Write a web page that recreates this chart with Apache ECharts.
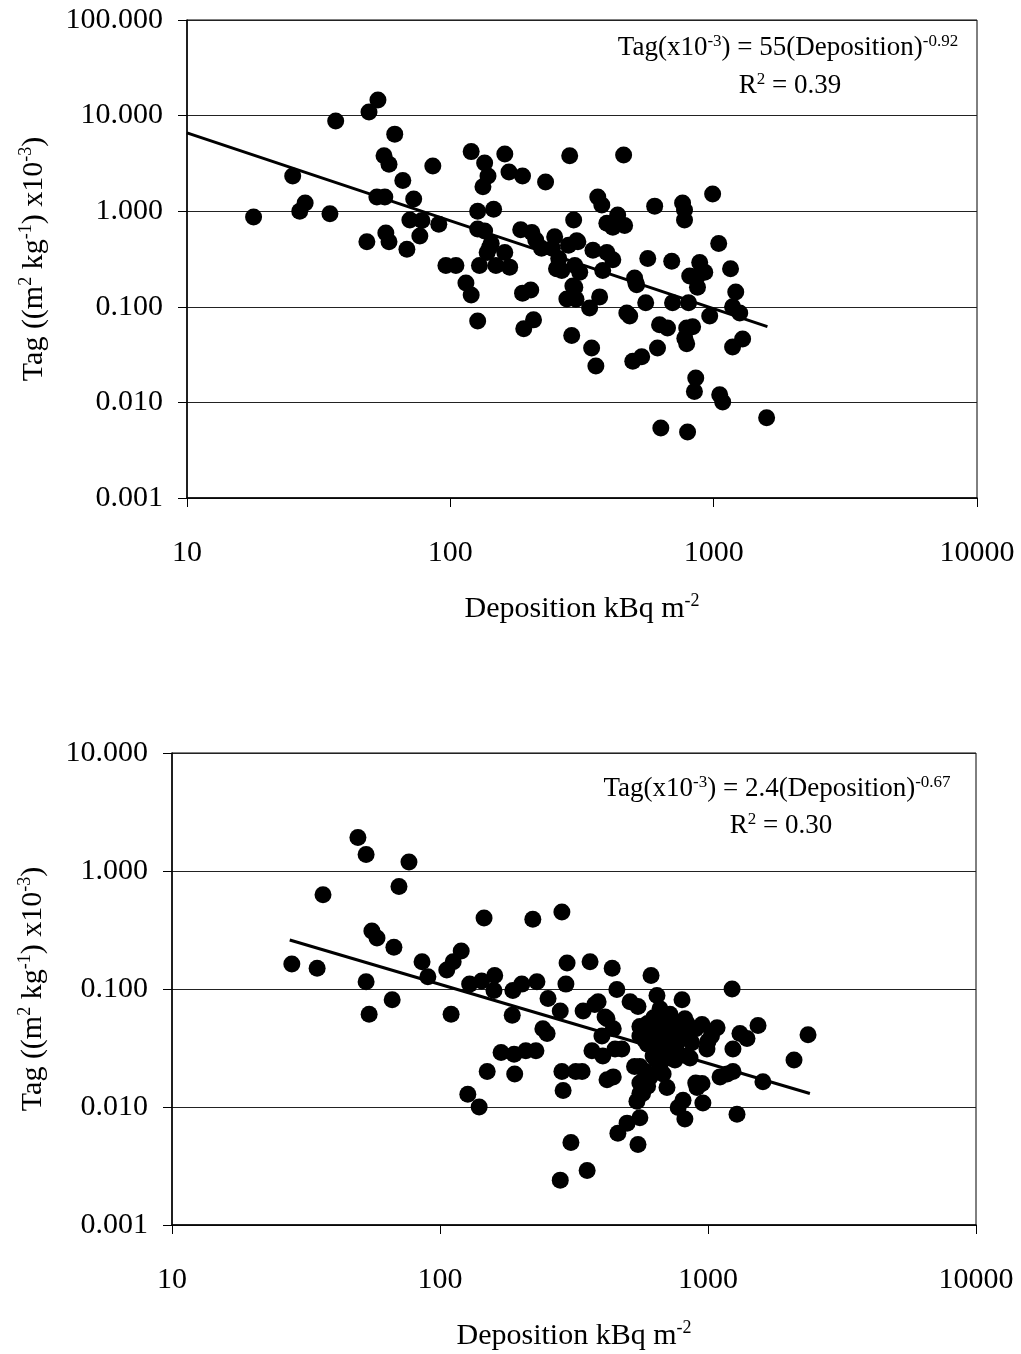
<!DOCTYPE html>
<html>
<head>
<meta charset="utf-8">
<script src="https://cdn.jsdelivr.net/npm/echarts@6/dist/echarts.min.js"></script>
<style>
  html, body { margin: 0; padding: 0; background: #fff; }
  #chart { width: 1021px; height: 1354px; }
</style>
</head>
<body>
<div id="chart"></div>
<script>
// deposition (kBq m-2) and Tag (x10-3)
var topDep = [17.9, 25.2, 26.8, 28.1, 34.9, 36.7, 49.1, 53.1, 61.5, 56, 58.5, 66, 52.6, 56.4, 72.6, 70.2, 78, 90.4, 85.8, 48.2,
  56.9, 58.5, 68.4, 76.6, 120, 135, 139, 133, 161, 167, 188, 230, 284, 127, 146, 127, 135, 185, 204, 249,
  294, 302, 281, 141, 143, 161, 138, 96.2, 105, 129, 149, 168, 114.6, 120, 127, 188, 202, 190, 207, 256,
  292, 277, 289, 338, 344, 357, 348, 393, 414, 369, 506, 562, 552, 468, 480, 693, 698, 623, 668, 612,
  533, 493, 630, 796, 1589, 855, 845, 1054, 1082, 790, 832, 777, 790, 803, 885, 925, 868, 811, 868, 1159,
  1213, 1180, 1256, 966, 1180, 1288, 1045, 455, 363, 376, 597, 762, 775, 775, 991, 393, 432, 459, 414, 222,
  211, 244, 253, 265, 258, 305, 297, 310, 297, 300, 379, 501, 510];
var topTag = [0.87, 2.33, 1.0, 1.22, 0.94, 8.8, 10.9, 14.6, 6.4, 3.8, 3.1, 2.1, 1.41, 1.41, 1.34, 0.81, 0.8, 0.73, 2.97, 0.48,
  0.59, 0.48, 0.4, 0.55, 4.2, 3.2, 2.33, 1.8, 3.96, 2.57, 2.33, 2.02, 3.8, 1.0, 1.05, 0.65, 0.62, 0.64, 0.6, 0.54,
  0.81, 0.49, 0.44, 0.42, 0.46, 0.37, 0.37, 0.27, 0.27, 0.27, 0.27, 0.26, 0.177, 0.133, 0.071, 0.139, 0.15, 0.059, 0.073, 0.25,
  0.165, 0.121, 0.05, 0.097, 0.037, 0.024, 0.39, 0.37, 0.31, 0.127, 0.18, 0.32, 0.11, 0.086, 0.08, 0.3, 0.11, 0.065, 0.06, 0.037,
  0.03, 0.027, 0.0054, 0.0049, 0.0069, 0.018, 0.013, 0.012, 0.0101, 0.06, 0.062, 0.047, 0.041, 0.11, 0.29, 0.23, 0.21, 0.21, 0.16, 0.25,
  0.143, 0.1, 0.086, 0.08, 0.038, 0.046, 0.46, 3.87, 1.41, 1.16, 1.13, 1.22, 1.03, 0.81, 1.51, 0.75, 0.91, 0.71, 0.68, 0.41,
  0.5, 0.41, 0.25, 0.24, 0.32, 0.48, 0.27, 0.23, 0.16, 0.12, 0.24, 0.2, 0.17];

// lower panel
var botDep = [49.4, 53, 76.6, 70.3, 36.6, 55.7, 58.2, 67.3, 146, 222, 285, 28, 34.8, 85.7, 120, 112, 106, 53, 90.1, 298,
  295, 129, 143, 160, 159, 187, 202, 230, 66.3, 54.4, 110, 253, 281, 186, 242, 251, 169, 189, 209, 228,
  150, 190, 285, 321, 288, 127, 140, 308, 281, 1230, 613, 439, 363, 457, 512, 548, 645, 800, 662, 721,
  820, 950, 1081, 1316, 1398, 1537, 2362, 2094, 1603, 1239, 1239, 1109, 1180, 991, 857, 753, 950, 910, 957, 1283,
  807, 774, 820, 703, 548, 461, 499, 557, 543, 570, 557, 583, 532, 624, 595, 557, 662, 595, 703, 753,
  835, 1030, 735, 450, 405, 369, 443, 420, 339, 354, 378, 342, 413, 402, 443, 389, 420, 477, 557, 608,
  662, 766, 835, 557, 608, 662, 721, 835, 557, 595, 900, 627, 690, 650, 700, 600, 580, 640, 680, 760,
  870, 900, 1000, 720];
var botTag = [1.92, 1.38, 1.19, 0.74, 0.63, 0.31, 0.27, 0.226, 0.4, 0.39, 0.45, 0.163, 0.15, 0.17, 0.21, 0.17, 0.145, 0.115, 0.127, 0.166,
  0.11, 0.11, 0.117, 0.13, 0.097, 0.097, 0.11, 0.115, 0.081, 0.061, 0.061, 0.083, 0.065, 0.06, 0.046, 0.042, 0.029, 0.028, 0.03, 0.03,
  0.02, 0.019, 0.02, 0.02, 0.0138, 0.0128, 0.01, 0.005, 0.0024, 0.1, 0.13, 0.15, 0.17, 0.099, 0.078, 0.071, 0.088, 0.081, 0.068, 0.061,
  0.056, 0.05, 0.047, 0.042, 0.038, 0.049, 0.041, 0.025, 0.0164, 0.031, 0.02, 0.018, 0.019, 0.031, 0.026, 0.025, 0.0158, 0.0146, 0.0108, 0.0087,
  0.0114, 0.0099, 0.0079, 0.0146, 0.0048, 0.006, 0.0073, 0.0081, 0.0112, 0.013, 0.016, 0.02, 0.022, 0.027, 0.034, 0.04, 0.04, 0.051, 0.044, 0.051,
  0.04, 0.04, 0.03, 0.031, 0.027, 0.03, 0.018, 0.017, 0.02, 0.0029, 0.074, 0.065, 0.058, 0.04, 0.046, 0.078, 0.056, 0.031, 0.048, 0.035,
  0.046, 0.04, 0.051, 0.022, 0.018, 0.021, 0.026, 0.027, 0.013, 0.015, 0.016, 0.057, 0.053, 0.03, 0.035, 0.043, 0.037, 0.025, 0.019, 0.033,
  0.035, 0.046, 0.036, 0.043];

// ends of the fitted power-law lines (straight on log-log)
var topFitDep = [10, 1600];
var topFitTag = [6.6, 0.062];
var botFitDep = [27.5, 2400];
var botFitTag = [0.26, 0.013];

var xTicks = [10, 100, 1000, 10000];
var topYTicks = [0.001, 0.01, 0.1, 1, 10, 100];
var botYTicks = [0.001, 0.01, 0.1, 1, 10];

var FONT = 'Liberation Serif';

function pairs(xs, ys) {
  return xs.map(function (x, i) { return [x, ys[i]]; });
}

var supRich = {
  s: { fontFamily: FONT, fontSize: 18, lineHeight: 18, verticalAlign: 'top' }
};

function xAxisCfg(gridIndex) {
  return {
    type: 'log',
    logBase: 10,
    gridIndex: gridIndex,
    min: xTicks[0],
    max: xTicks[xTicks.length - 1],
    name: 'Deposition kBq m{s|-2}',
    nameLocation: 'middle',
    nameGap: 94,
    nameTextStyle: { fontFamily: FONT, fontSize: 30, color: '#000', lineHeight: 34, rich: supRich },
    axisLine: { show: true, lineStyle: { color: '#000', width: 1.5 } },
    axisTick: { show: true, length: 9, lineStyle: { color: '#000' } },
    minorTick: { show: false },
    splitLine: { show: false },
    axisLabel: {
      fontFamily: FONT, fontSize: 30, color: '#000', margin: 40,
      formatter: function (v) { return String(Math.round(v)); }
    }
  };
}

function yAxisCfg(gridIndex, ticks, gap) {
  return {
    type: 'log',
    logBase: 10,
    gridIndex: gridIndex,
    min: ticks[0],
    max: ticks[ticks.length - 1],
    splitNumber: ticks.length - 1,
    name: 'Tag ((m{s|2} kg{s|-1}) x10{s|-3})',
    nameLocation: 'middle',
    nameRotate: 90,
    nameGap: gap,
    nameTextStyle: { fontFamily: FONT, fontSize: 30, color: '#000', lineHeight: 34, rich: supRich },
    axisLine: { show: true, lineStyle: { color: '#000', width: 1.5 } },
    axisTick: { show: true, length: 9, lineStyle: { color: '#000' } },
    minorTick: { show: false },
    splitLine: { show: true, lineStyle: { color: '#222', width: 1 } },
    axisLabel: {
      fontFamily: FONT, fontSize: 30, color: '#000', margin: 24,
      formatter: function (v) { return Number(v).toFixed(3); }
    }
  };
}

function eqText(x, y, txt) {
  return {
    type: 'text',
    x: x,
    y: y,
    style: {
      text: txt,
      fill: '#000',
      font: '27px "' + FONT + '"',
      align: 'center',
      verticalAlign: 'middle',
      lineHeight: 30,
      rich: { s: { fontFamily: FONT, fontSize: 17, lineHeight: 17, verticalAlign: 'top' } }
    }
  };
}

var dot = { color: '#000', opacity: 1 };

var option = {
  backgroundColor: '#fff',
  animation: false,
  grid: [
    { left: 187, right: 44, top: 20, height: 478, show: true, borderColor: '#000', borderWidth: 1 },
    { left: 172, right: 45, top: 753, height: 478, show: true, borderColor: '#000', borderWidth: 1 }
  ],
  xAxis: [xAxisCfg(0), xAxisCfg(1)],
  yAxis: [yAxisCfg(0, topYTicks, 136), yAxisCfg(1, botYTicks, 122)],
  graphic: [
    eqText(788, 48, 'Tag(x10{s|-3}) = 55(Deposition){s|-0.92}'),
    eqText(790, 86, 'R{s|2} = 0.39'),
    eqText(777, 789, 'Tag(x10{s|-3}) = 2.4(Deposition){s|-0.67}'),
    eqText(781, 826, 'R{s|2} = 0.30')
  ],
  series: [
    {
      type: 'scatter', xAxisIndex: 0, yAxisIndex: 0,
      symbol: 'circle', symbolSize: 17, itemStyle: dot,
      data: pairs(topDep, topTag)
    },
    {
      type: 'line', xAxisIndex: 0, yAxisIndex: 0, z: 5,
      showSymbol: false, symbol: 'none',
      lineStyle: { color: '#000', width: 3 },
      data: pairs(topFitDep, topFitTag)
    },
    {
      type: 'scatter', xAxisIndex: 1, yAxisIndex: 1,
      symbol: 'circle', symbolSize: 17, itemStyle: dot,
      data: pairs(botDep, botTag)
    },
    {
      type: 'line', xAxisIndex: 1, yAxisIndex: 1, z: 5,
      showSymbol: false, symbol: 'none',
      lineStyle: { color: '#000', width: 3 },
      data: pairs(botFitDep, botFitTag)
    }
  ]
};

var myChart = echarts.init(document.getElementById('chart'));
myChart.setOption(option);
window.addEventListener('resize', function () {
  myChart.resize();
});
</script>
</body>
</html>
